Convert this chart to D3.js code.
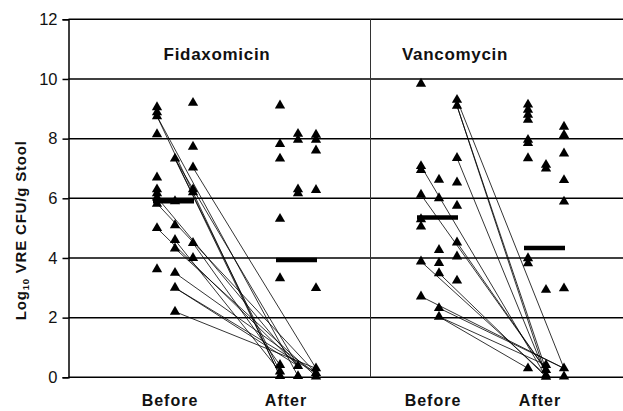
<!DOCTYPE html>
<html>
<head>
<meta charset="utf-8">
<script src="https://cdn.jsdelivr.net/npm/d3@7"></script>
<style>
  html, body { margin: 0; padding: 0; background: #fff; }
  svg { display: block; font-family: "Liberation Sans", Arial, sans-serif; }
</style>
</head>
<body>
<svg id="chart" width="623" height="411"></svg>
<script>
// ---------- data ----------
const panels = ["Fidaxomicin", "Vancomycin"];
const phases = ["Before", "After"];
const yTicks = [0, 2, 4, 6, 8, 10, 12];

// [sub-column, log10 value]
const fidBefore = [
  [0, 9.05], [0, 8.88], [0, 8.75], [0, 8.15], [0, 6.7], [0, 6.3], [0, 6.17], [0, 6.03], [0, 5.82], [0, 5.0], [0, 3.62],
  [1, 7.33], [1, 5.9], [1, 5.1], [1, 4.6], [1, 4.32], [1, 3.5], [1, 3.0], [1, 2.2],
  [2, 9.2], [2, 7.73], [2, 7.03], [2, 6.3], [2, 6.2], [2, 4.5], [2, 4.0]
];
const fidAfter = [
  [0, 9.11], [0, 7.82], [0, 7.33], [0, 5.31], [0, 3.32], [0, 0.41], [0, 0.19], [0, 0.04],
  [1, 8.16], [1, 7.96], [1, 6.3], [1, 6.17], [1, 0.38], [1, 0.04],
  [2, 8.13], [2, 7.96], [2, 7.6], [2, 6.28], [2, 2.99], [2, 0.3], [2, 0.14], [2, 0.03]
];
// [before col, before value, after col, after value]
const fidLinks = [
  [0, 8.75, 0, 0.04], [0, 8.75, 1, 0.04], [1, 7.33, 0, 0.19], [1, 7.33, 1, 0.38], [1, 7.33, 0, 0.04],
  [2, 7.03, 2, 0.3], [0, 6.03, 1, 0.38], [0, 5.82, 2, 0.14], [0, 5.0, 1, 0.38], [1, 4.6, 0, 0.19],
  [1, 4.32, 2, 0.03], [2, 4.5, 0, 0.41], [1, 3.5, 2, 0.14], [1, 3.0, 1, 0.38], [1, 3.0, 2, 0.14],
  [1, 2.2, 2, 0.3]
];
const fidMeans = [5.9, 3.93];

const vanBefore = [
  [0, 9.84], [0, 7.08], [0, 6.95], [0, 6.12], [0, 5.3], [0, 5.05], [0, 3.88], [0, 2.71],
  [1, 6.62], [1, 6.0], [1, 4.27], [1, 3.83], [1, 3.49], [1, 2.32], [1, 2.03],
  [2, 9.3], [2, 9.1], [2, 7.35], [2, 6.53], [2, 5.75], [2, 4.52], [2, 4.05], [2, 3.24]
];
const vanAfter = [
  [0, 9.14], [0, 8.97], [0, 8.8], [0, 8.63], [0, 7.96], [0, 7.85], [0, 7.34], [0, 3.99], [0, 3.82], [0, 0.3],
  [1, 7.12], [1, 7.0], [1, 2.93], [1, 0.41], [1, 0.24], [1, 0.07], [1, 0.02],
  [2, 8.4], [2, 8.12], [2, 7.5], [2, 6.61], [2, 5.89], [2, 2.98], [2, 0.3], [2, 0.03]
];
const vanLinks = [
  [2, 9.1, 1, 0.24], [2, 9.1, 1, 0.07], [2, 9.3, 2, 0.3], [2, 7.35, 1, 0.07], [0, 7.08, 1, 0.02],
  [0, 6.12, 1, 0.24], [2, 4.52, 1, 0.24], [0, 3.88, 1, 0.07], [1, 3.49, 1, 0.02], [0, 2.71, 2, 0.3],
  [1, 2.32, 2, 0.3], [1, 2.03, 1, 0.41], [1, 2.03, 0, 0.3]
];
const vanMeans = [5.36, 4.33];

// ---------- layout ----------
const svg = d3.select("#chart");
const x0 = 68.5, xEnd = 623, yTop = 19.3, yBot = 377.3, xDiv = 370.5;

const y = d3.scaleLinear().domain([0, 12]).range([yBot, yTop]);
const phaseX = [
  d3.scalePoint().domain(phases).range([175, 298]),
  d3.scalePoint().domain(phases).range([439, 546])
];
const sub = d3.scalePoint().domain([0, 1, 2]).range([-18, 18]);
const labelNudge = [[-5, -12], [-6, -6]];

// gridlines
svg.append("g").selectAll("line").data(yTicks).join("line")
  .attr("x1", x0).attr("x2", xEnd)
  .attr("y1", d => y(d)).attr("y2", d => y(d))
  .attr("stroke", "#000").attr("stroke-width", 1.5);

// panel divider
svg.append("line").attr("x1", xDiv).attr("x2", xDiv)
  .attr("y1", y(12)).attr("y2", y(0))
  .attr("stroke", "#333").attr("stroke-width", 1);

// y axis
const yAxis = svg.append("g").attr("transform", `translate(${x0},0)`)
  .call(d3.axisLeft(y).tickValues(yTicks).tickSize(6).tickPadding(5).tickFormat(d3.format("d")));
yAxis.select(".domain").attr("stroke", "#000").attr("stroke-width", 1.5);
yAxis.selectAll(".tick line").attr("stroke", "#000").attr("stroke-width", 1.5);
yAxis.selectAll(".tick text").attr("font-size", 16.5).attr("fill", "#111")
  .attr("font-family", "'Liberation Sans', Arial, sans-serif");

// y label
const yl = svg.append("text")
  .attr("transform", `translate(26,${(yTop + yBot) / 2 + 32}) rotate(-90)`)
  .attr("text-anchor", "middle").attr("font-weight", "bold").attr("font-size", 15)
  .attr("letter-spacing", 0.8).attr("fill", "#111");
yl.append("tspan").text("Log");
yl.append("tspan").text("10").attr("font-size", 9.5).attr("dy", 3);
yl.append("tspan").text(" VRE CFU/g Stool").attr("dy", -3);

const tri = d3.symbol().type(d3.symbolTriangle).size(46);

const panelData = [
  { before: fidBefore, after: fidAfter, links: fidLinks, means: fidMeans },
  { before: vanBefore, after: vanAfter, links: vanLinks, means: vanMeans }
];

panelData.forEach((p, i) => {
  const px = phaseX[i];
  const g = svg.append("g");

  // title
  g.append("text").text(panels[i])
    .attr("x", i === 0 ? 217 : 455).attr("y", 60)
    .attr("text-anchor", "middle").attr("font-weight", "bold").attr("font-size", 17)
    .attr("letter-spacing", 0.7).attr("fill", "#111");

  // connecting lines
  g.append("g").selectAll("line").data(p.links).join("line")
    .attr("x1", d => px("Before") + sub(d[0])).attr("y1", d => y(d[1]))
    .attr("x2", d => px("After") + sub(d[2])).attr("y2", d => y(d[3]))
    .attr("stroke", "#000").attr("stroke-width", 0.8);

  // triangles
  [["Before", p.before], ["After", p.after]].forEach(([ph, arr]) => {
    g.append("g").selectAll("path").data(arr).join("path")
      .attr("d", tri)
      .attr("transform", d => `translate(${px(ph) + sub(d[0])},${y(d[1])})`)
      .attr("fill", "#000");
  });

  // mean bars
  g.append("g").selectAll("line").data(phases).join("line")
    .attr("x1", (ph) => px(ph) + sub(0) - 4).attr("x2", (ph) => px(ph) + sub(2) + 1)
    .attr("y1", (ph, k) => y(p.means[k])).attr("y2", (ph, k) => y(p.means[k]))
    .attr("stroke", "#000").attr("stroke-width", 4.5);

  // x labels
  g.append("g").selectAll("text").data(phases).join("text")
    .text(d => d)
    .attr("x", (d, k) => px(d) + labelNudge[i][k]).attr("y", 406)
    .attr("text-anchor", "middle").attr("font-weight", "bold").attr("font-size", 16)
    .attr("letter-spacing", 1).attr("fill", "#111");
});
</script>
</body>
</html>
